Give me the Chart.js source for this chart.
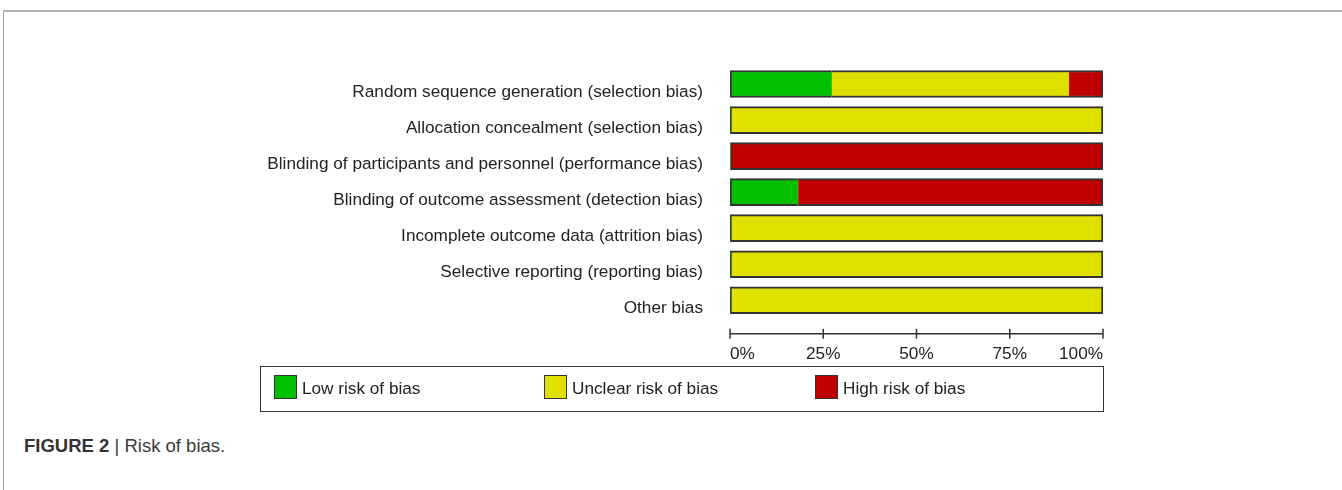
<!DOCTYPE html>
<html>
<head>
<meta charset="utf-8">
<script src="https://cdn.jsdelivr.net/npm/chart.js@4.4.1/dist/chart.umd.min.js"></script>
<style>
  body { margin: 0; background: #fff; font-family: "Liberation Sans", Arial, sans-serif; }
  #frame { position: absolute; left: 3px; top: 10px; width: 1339px; height: 480px;
           border-top: 2px solid #b4b4b4; border-left: 1px solid #a0a0a0; }
  #grafico { position: absolute; left: 0; top: 0; }
  #leyenda { position: absolute; left: 260px; top: 366px; width: 842px; height: 44px;
             border: 1.5px solid #333; }
  .item { position: absolute; top: 8px; height: 25px; font-size: 17.2px; color: #222; line-height: 25px; }
  .item span.caja { position: absolute; left: 0; top: 0; width: 21px; height: 22px; border: 1.5px solid #333; }
  .item span.texto { position: absolute; left: 28px; top: 1px; white-space: nowrap; }
  #pie { position: absolute; left: 24px; top: 435px; font-size: 18.5px; color: #3a3a3a; }
  #pie b { color: #333; }
</style>
</head>
<body>
<div id="frame"></div>
<canvas id="grafico" width="1342" height="370" style="width:1342px;height:370px"></canvas>
<div id="leyenda"></div>
<div id="pie"><b>FIGURE 2</b> | Risk of bias.</div>
<script>
// ==================== DATOS ====================
const categorias = [
  "Random sequence generation (selection bias)",
  "Allocation concealment (selection bias)",
  "Blinding of participants and personnel (performance bias)",
  "Blinding of outcome assessment (detection bias)",
  "Incomplete outcome data (attrition bias)",
  "Selective reporting (reporting bias)",
  "Other bias"
];
const riesgoBajo     = [27.3, 0, 0, 18.2, 0, 0, 0];
const riesgoIncierto = [63.6, 100, 0, 0, 100, 100, 100];
const riesgoAlto     = [9.1, 0, 100, 81.8, 0, 0, 0];
const ticksX = [0, 25, 50, 75, 100];

const series = [
  { label: "Low risk of bias", data: riesgoBajo, color: "#00c000", left: 275 },
  { label: "Unclear risk of bias", data: riesgoIncierto, color: "#e0e000", left: 545 },
  { label: "High risk of bias", data: riesgoAlto, color: "#c00000", left: 816 }
];

// borde solo en el contorno exterior de cada barra apilada
function bordeSegmento(ctx) {
  const i = ctx.dataIndex;
  const d = ctx.datasetIndex;
  const w = 2;
  if (!series[d].data[i]) return 0;
  const activos = series.map((s, k) => s.data[i] ? k : -1).filter(k => k >= 0);
  return {
    top: w, bottom: w,
    left: activos[0] === d ? w : 0,
    right: activos[activos.length - 1] === d ? w : 0
  };
}

// eje x dibujado con marcas a ambos lados de la línea
const ejePlugin = {
  id: "ejeX",
  afterDraw(chart) {
    const xs = chart.scales.x;
    const y = chart.chartArea.bottom + 1;
    const ctx = chart.ctx;
    ctx.save();
    ctx.strokeStyle = "#333";
    ctx.lineWidth = 1.5;
    ctx.beginPath();
    ctx.moveTo(xs.getPixelForValue(0), y);
    ctx.lineTo(xs.getPixelForValue(100), y);
    ticksX.forEach(v => {
      const px = xs.getPixelForValue(v);
      ctx.moveTo(px, y - 5);
      ctx.lineTo(px, y + 5);
    });
    ctx.stroke();
    ctx.restore();
  }
};

const fuente = { family: "'Liberation Sans', Arial, sans-serif", size: 17.2 };

new Chart(document.getElementById("grafico").getContext("2d"), {
  type: "bar",
  data: {
    datasets: series.map(s => ({
      label: s.label,
      data: s.data.map((v, i) => ({ x: v, y: i })),
      backgroundColor: s.color,
      borderColor: "#333",
      borderWidth: bordeSegmento,
      borderSkipped: false,
      barThickness: 27
    }))
  },
  options: {
    indexAxis: "y",
    responsive: false,
    animation: false,
    devicePixelRatio: 1,
    layout: { padding: { left: 0, right: 239, top: 66, bottom: 7 } },
    plugins: { legend: { display: false }, tooltip: { enabled: false } },
    scales: {
      x: {
        type: "linear", stacked: true, min: 0, max: 100,
        grid: { display: false, drawTicks: false },
        border: { display: false },
        afterBuildTicks: s => { s.ticks = ticksX.map(v => ({ value: v })); },
        afterFit: s => { s.height = 30; },
        ticks: { align: "inner", padding: 11, color: "#222", font: fuente, callback: v => v + "%" }
      },
      y: {
        type: "linear", stacked: true, reverse: true, offset: false, min: -0.5, max: 6.9,
        grid: { display: false, drawTicks: false, offset: false },
        border: { display: false },
        afterBuildTicks: s => { s.ticks = categorias.map((c, i) => ({ value: i })); },
        afterFit: s => { s.width = 730; },
        ticks: { padding: 27, labelOffset: 8, color: "#222", font: fuente, callback: v => categorias[v] }
      }
    }
  },
  plugins: [ejePlugin]
});

// leyenda con recuadro
const leyenda = document.getElementById("leyenda");
series.forEach(s => {
  const it = document.createElement("div");
  it.className = "item";
  it.style.left = (s.left - 262) + "px";
  it.innerHTML = `<span class="caja" style="background:${s.color}"></span><span class="texto">${s.label}</span>`;
  leyenda.appendChild(it);
});
</script>
</body>
</html>
